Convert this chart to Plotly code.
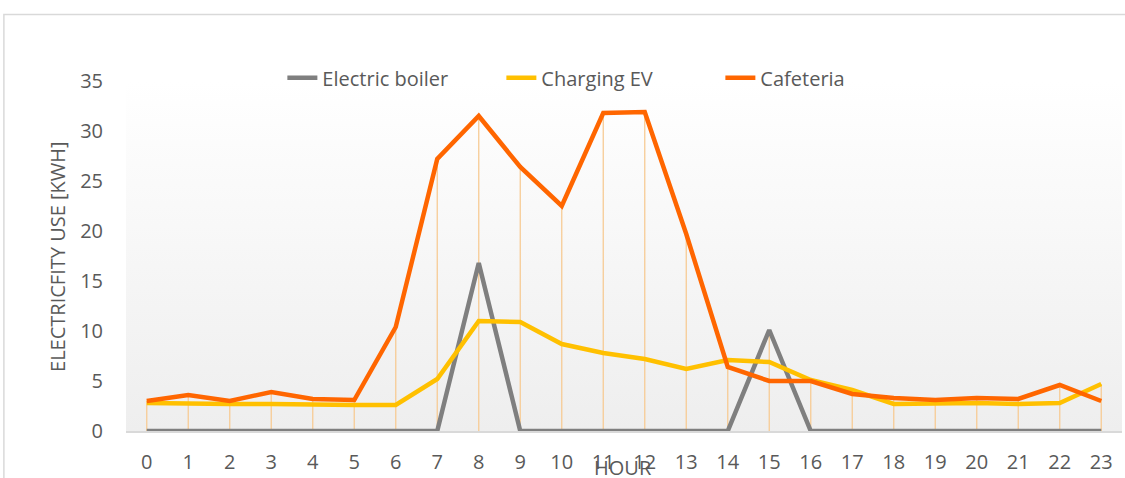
import plotly.graph_objects as go

hours = list(range(24))
electric_boiler = [0, 0, 0, 0, 0, 0, 0, 0, 16.8, 0, 0, 0, 0, 0, 0, 10.1, 0, 0, 0, 0, 0, 0, 0, 0]
charging_ev = [2.8, 2.7, 2.7, 2.7, 2.6, 2.6, 2.6, 5.2, 11.0, 10.9, 8.7, 7.8, 7.2, 6.2, 7.1, 6.9, 5.1, 4.1, 2.7, 2.8, 2.8, 2.7, 2.8, 4.7]
cafeteria = [3.0, 3.6, 3.0, 3.9, 3.2, 3.1, 10.4, 27.2, 31.5, 26.4, 22.5, 31.8, 31.9, 19.7, 6.4, 5.0, 5.0, 3.7, 3.3, 3.1, 3.3, 3.2, 4.6, 3.0]
series_names = ["Electric boiler", "Charging EV", "Cafeteria"]
series_colors = ["#7F7F7F", "#FFC000", "#FF6600"]
y_ticks = [0, 5, 10, 15, 20, 25, 30, 35]

FONT = "Open Sans"
TXT = "#595959"

fig = go.Figure()

# gradient plot background
fig.add_trace(go.Scatter(
    x=[-0.5, 23.5, 23.5, -0.5], y=[0, 0, 35, 35], fill="toself", mode="none",
    fillgradient=dict(type="vertical", colorscale=[[0, "#EEEEEE"], [1, "#FFFFFF"]]),
    hoverinfo="skip", showlegend=False))

# drop lines
dx, dy = [], []
for h, a, b, c in zip(hours, electric_boiler, charging_ev, cafeteria):
    dx += [h, h, None]
    dy += [0, max(a, b, c), None]
fig.add_trace(go.Scatter(x=dx, y=dy, mode="lines",
                         line=dict(color="#F7CB95", width=1.3),
                         hoverinfo="skip", showlegend=False))

for name, vals, col in zip(series_names, [electric_boiler, charging_ev, cafeteria], series_colors):
    fig.add_trace(go.Scatter(x=hours, y=vals, name=name, mode="lines",
                             line=dict(color=col, width=4.5)))

fig.update_layout(
    width=1125, height=478,
    margin=dict(l=126, r=3, t=81, b=43),
    paper_bgcolor="white", plot_bgcolor="rgba(0,0,0,0)",
    font=dict(family=FONT, size=20, color=TXT),
    showlegend=True,
    legend=dict(orientation="h", x=0.157, xanchor="left", y=1.009, yanchor="middle",
                font=dict(family=FONT, size=20, color=TXT),
                entrywidth=174, entrywidthmode="pixels",
                bgcolor="rgba(0,0,0,0)", itemclick=False),
    xaxis=dict(range=[-0.5, 23.5], tickmode="array", tickvals=hours,
               ticktext=[str(h) for h in hours], showgrid=False, zeroline=False,
               showline=True, linecolor="#D9D9D9", linewidth=2, ticks="",
               ticklabelstandoff=12, tickfont=dict(family=FONT, size=20, color=TXT)),
    yaxis=dict(range=[0, 35], tickmode="array", tickvals=y_ticks, showgrid=False,
               zeroline=False, showline=False, ticks="", ticklabelstandoff=22,
               tickfont=dict(family=FONT, size=20, color=TXT)),
    shapes=[dict(type="rect", xref="paper", yref="paper",
                 x0=-0.1226, x1=1.01, y0=-0.2, y1=1.19,
                 line=dict(color="#D9D9D9", width=1.5), layer="below")],
    annotations=[
        dict(text="HOUR", xref="paper", yref="paper", x=0.4985, y=-0.105,
             xanchor="center", yanchor="middle", showarrow=False,
             font=dict(family=FONT, size=20, color=TXT)),
        dict(text="ELECTRICFITY USE [KWH]", xref="paper", yref="paper",
             x=(57 - 126) / 995.4, y=0.5, xanchor="center", yanchor="middle",
             textangle=-90, showarrow=False,
             font=dict(family=FONT, size=20, color=TXT)),
    ],
)

fig.write_html("out.html", config={"displayModeBar": False},
               post_script="document.body.style.margin='0';")
